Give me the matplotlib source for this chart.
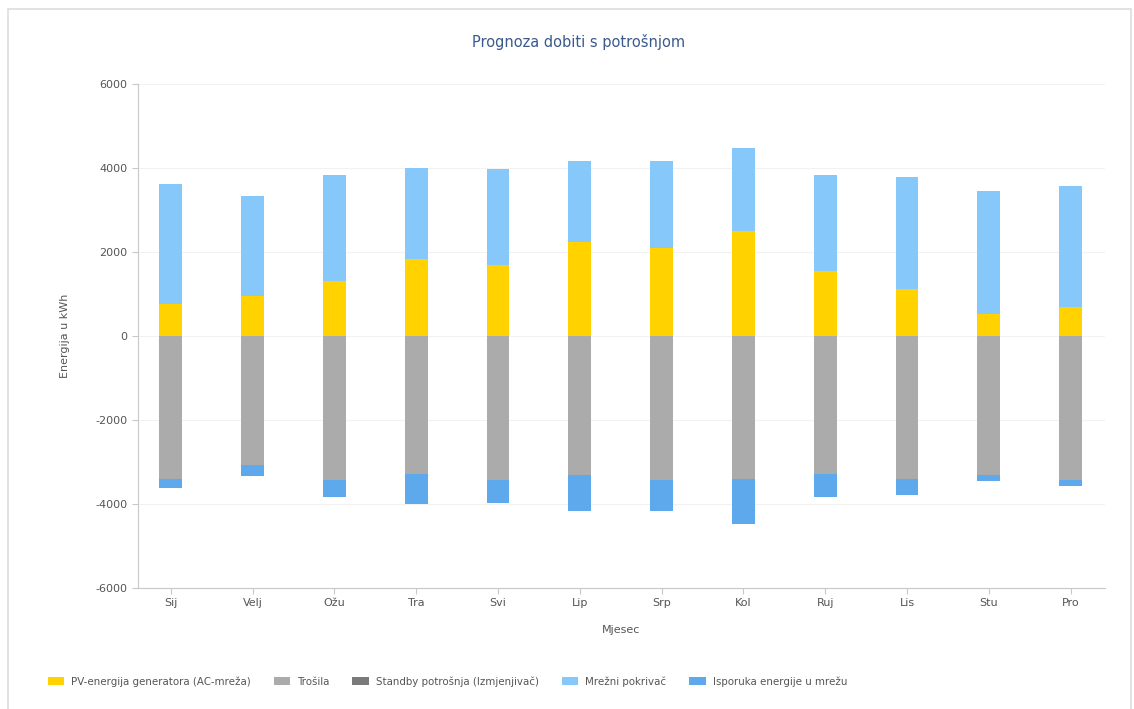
import numpy as np
import matplotlib.pyplot as plt
from matplotlib.patches import Rectangle

plt.rcParams['axes.unicode_minus'] = False

months = ['Sij', 'Velj', 'Ožu', 'Tra', 'Svi', 'Lip', 'Srp', 'Kol', 'Ruj', 'Lis', 'Stu', 'Pro']

# kWh per month
pv_energy = [750, 960, 1310, 1840, 1690, 2250, 2100, 2490, 1540, 1110, 515, 700]
grid_draw = [2865, 2380, 2515, 2160, 2280, 1910, 2065, 1990, 2290, 2670, 2930, 2870]
consumption = [3410, 3080, 3430, 3290, 3430, 3300, 3420, 3400, 3280, 3400, 3300, 3420]
standby = [0, 0, 0, 0, 0, 0, 0, 0, 0, 0, 0, 0]
feed_in = [205, 260, 395, 710, 540, 860, 745, 1080, 550, 380, 145, 160]

labels = ['PV-energija generatora (AC-mreža)', 'Trošila', 'Standby potrošnja (Izmjenjivač)',
          'Mrežni pokrivač', 'Isporuka energije u mrežu']
colors = ['#FFD200', '#ABABAB', '#7A7A7A', '#87C8FA', '#5EA8EC']

x = np.arange(len(months))
w = 0.28

fig = plt.figure(figsize=(11.34, 7.09), dpi=100)
ax = fig.add_axes([0.1217, 0.1707, 0.8527, 0.7108])

pv = np.array(pv_energy)
cons = np.array(consumption)
stb = np.array(standby)

ax.bar(x, pv, w, color=colors[0], label=labels[0], zorder=3)
ax.bar(x, -cons, w, color=colors[1], label=labels[1], zorder=3)
ax.bar(x, -stb, w, bottom=-cons, color=colors[2], label=labels[2], zorder=3, linewidth=0)
ax.bar(x, grid_draw, w, bottom=pv, color=colors[3], label=labels[3], zorder=3)
ax.bar(x, -np.array(feed_in), w, bottom=-(cons + stb), color=colors[4], label=labels[4], zorder=3)

ax.set_xlim(-0.4, 11.42)
ax.set_ylim(-6000, 6000)
ax.set_yticks(range(-6000, 6001, 2000))
ax.set_xticks(x)
ax.set_xticklabels(months)
ax.grid(axis='y', color='#f2f2f2', linewidth=0.8, zorder=0)

for s in ['top', 'right']:
    ax.spines[s].set_visible(False)
for s in ['left', 'bottom']:
    ax.spines[s].set_color('#c8c8c8')
ax.tick_params(colors='#c8c8c8', labelcolor='#555555', labelsize=8, length=4)

ax.set_ylabel('Energija u kWh', fontsize=8, color='#555555', labelpad=18)
ax.set_xlabel('Mjesec', fontsize=8, color='#555555', labelpad=12)
fig.text(0.51, 0.941, 'Prognoza dobiti s potrošnjom', ha='center', va='center',
         fontsize=10.5, color='#3A5A8C')

fig.legend(loc='lower left', bbox_to_anchor=(0.034, 0.018), ncol=5, frameon=False,
           fontsize=7.4, handlelength=1.6, handleheight=0.8, columnspacing=2.2,
           handletextpad=0.7, labelcolor='#555555')

fig.patches.append(Rectangle((0.007, -0.01), 0.99, 0.998, transform=fig.transFigure,
                             fill=False, edgecolor='#dddddd', linewidth=1.2))

plt.savefig('out.png')
